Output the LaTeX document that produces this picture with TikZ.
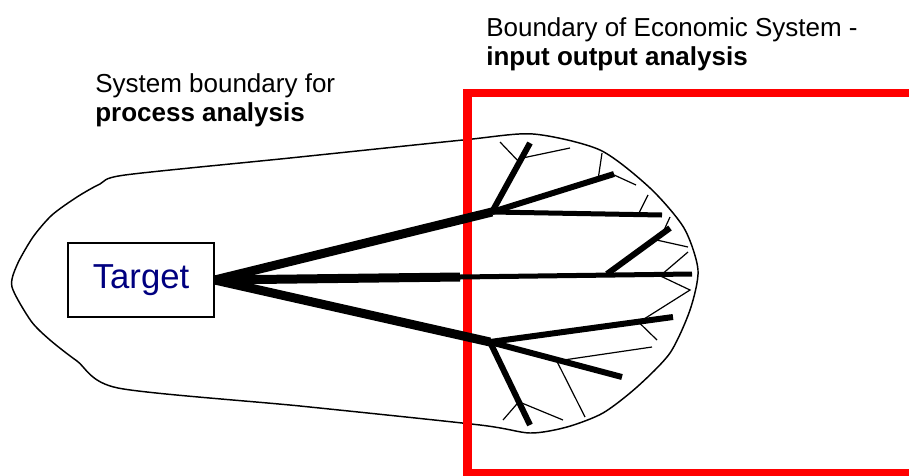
\documentclass[tikz,border=0pt]{standalone}
\usepackage{fontspec}
\setmainfont{Liberation Sans}
\usetikzlibrary{calc}
\definecolor{tnavy}{RGB}{0,0,128}
\definecolor{ecored}{RGB}{255,0,0}
\tikzset{
  lbl/.style={align=left,inner sep=0pt,font=\fontsize{19.5}{21.75}\selectfont},
  trunk/.style={line width=6.75pt},
  limb/.style={line width=4.5pt},
  twig/.style={line width=0.9pt},
  bnd/.style={line width=1.1pt},
  ecobox/.style={draw=ecored,line width=6.4pt},
}
\begin{document}
\begin{tikzpicture}[x=0.75pt,y=-0.75pt]
  \clip (0,0) rectangle (909,475);
  % boundary for process analysis
  \draw[bnd] plot[smooth cycle,tension=0.45] coordinates {
    (12,287) (17,265) (33,237) (52,215) (77,197) (100,184) (125,175)
    (290,158) (463,140) (533,134) (600,150) (650,188) (684,228) (698,270)
    (690,310) (670,353) (637,387) (603,413) (567,427) (530,433) (480,425)
    (300,406) (118,388) (77,361) (50,340) (31,321)};
  % boundary of economic system
  \draw[ecobox] (467.5,93) rectangle (960,473);
  \node[lbl,anchor=base west] (ioa) at (486,65)
    {Boundary of Economic System -\\\textbf{input output analysis}};
  \node[lbl,anchor=base west] (pa) at (95,121)
    {System boundary for\\\textbf{process analysis}};
  \node[draw,fill=white,line width=1.1pt,minimum width=109.5pt,minimum height=55.5pt,
    text=tnavy,font=\fontsize{26}{30}\selectfont] (target) at (141,280) {Target};
  % forks and tips
  \coordinate (ju) at (492,212);  \coordinate (jl) at (490,342);
  \coordinate (jm) at (460,277);  \coordinate (mend) at (692,274);
  \coordinate (mf) at (607,274);  \coordinate (m1) at (670,228);
  \coordinate (u1) at (530,143);  \coordinate (u2) at (614,174);
  \coordinate (u3) at (662,215);
  \coordinate (l1) at (673,317);  \coordinate (l2) at (622,377);
  \coordinate (l3) at (530,425);
  % free ends of the twigs
  \coordinate (t1) at (500,142);  \coordinate (t2) at (570,148);
  \coordinate (t3) at (602,153);  \coordinate (t4) at (636,185);
  \coordinate (t5) at (648,195);  \coordinate (t6) at (670,217);
  \coordinate (t7) at (688,247);  \coordinate (t8) at (688,252);
  \coordinate (tv) at (690,290);  \coordinate (t9) at (657,340);
  \coordinate (t10) at (652,347); \coordinate (t11) at (585,417);
  \coordinate (t12) at (563,420); \coordinate (t13) at (503,420);
  % main branches
  \draw[trunk] (target.east) -- (ju);
  \draw[trunk] (target.east) -- (jl);
  \draw[trunk] (target.east) -- (jm);
  \draw[line width=3.75pt] (jm) -- (mend);
  \draw[limb] (ju) -- (u1);
  \draw[limb] (ju) -- (u2);
  \draw[line width=3.75pt] (ju) -- (u3);
  \draw[limb] (mf) -- (m1);
  \draw[limb] (jl) -- (l1);
  \draw[limb] (jl) -- (l2);
  \draw[limb] (jl) -- (l3);
  % twigs
  \draw[twig] ($(ju)!0.72!(u1)$) -- (t1);
  \draw[twig] ($(ju)!0.78!(u1)$) -- (t2);
  \draw[twig] ($(ju)!0.87!(u2)$) -- (t3);
  \draw[twig] ($(ju)!0.99!(u2)$) -- (t4);
  \draw[twig] ($(ju)!0.86!(u3)$) -- (t5);
  \draw[twig] ($(mf)!0.88!(m1)$) -- (t6);
  \draw[twig] ($(mf)!0.75!(m1)$) -- (t7);
  \draw[twig] ($(jm)!0.87!(mend)$) -- (t8);
  \draw[twig] ($(jm)!0.85!(mend)$) -- (tv) -- ($(jl)!0.82!(l1)$);
  \draw[twig] ($(jl)!0.81!(l1)$) -- (t9);
  \draw[twig] ($(jl)!0.53!(l2)$) -- (t10);
  \draw[twig] ($(jl)!0.50!(l2)$) -- (t11);
  \draw[twig] ($(jl)!0.72!(l3)$) -- (t12);
  \draw[twig] ($(jl)!0.72!(l3)$) -- (t13);
\end{tikzpicture}
\end{document}
